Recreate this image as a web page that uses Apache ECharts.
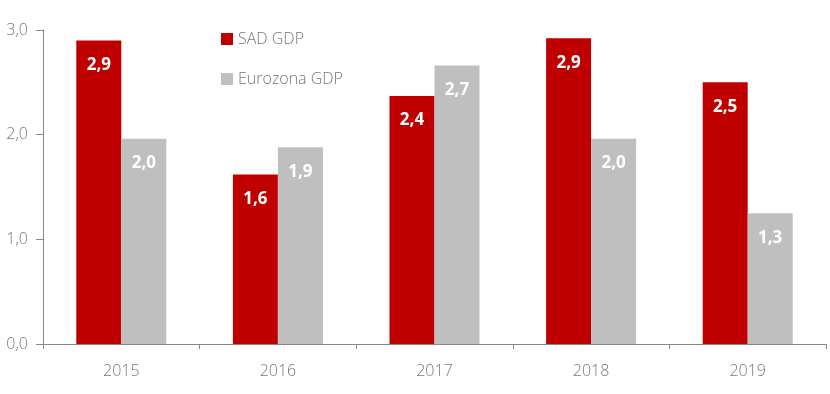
<!DOCTYPE html>
<html><head><meta charset="utf-8">
<script src="https://cdn.jsdelivr.net/npm/echarts@6/dist/echarts.min.js"></script>
<style>html,body{margin:0;padding:0;background:#fff}#c{width:830px;height:394px}</style>
</head><body><div id="c"></div>
<script>
var categories = ['2015','2016','2017','2018','2019'];
var sadGdp = [2.9, 1.62, 2.37, 2.92, 2.5];
var euroGdp = [1.96, 1.88, 2.66, 1.96, 1.25];
var yTicks = [0, 1, 2, 3];
var seriesNames = ['SAD GDP', 'Eurozona GDP'];

var fmt = function (v) { return (Math.round(v * 10) / 10).toFixed(1).replace('.', ','); };
var font = 'Open Sans';
var chart = echarts.init(document.getElementById('c'));
var lbl = {
  show: true, position: 'insideTop', distance: 16, color: '#fff',
  fontFamily: font, fontWeight: 'bold', fontSize: 17,
  formatter: function (p) { return fmt(p.value); }
};
chart.setOption({
  animation: false,
  grid: { left: 43, right: 4, top: 30, bottom: 50 },
  legend: {
    orient: 'vertical', left: 221, top: 29, padding: 0, itemWidth: 12, itemHeight: 12,
    itemGap: 20, icon: 'rect',
    textStyle: { color: '#777', fontFamily: font, fontSize: 16, lineHeight: 20, fontWeight: 300 },
    data: seriesNames
  },
  xAxis: {
    type: 'category', data: categories,
    axisLine: { lineStyle: { color: '#888' } },
    axisTick: { show: true, length: 5, lineStyle: { color: '#888' } },
    axisLabel: { color: '#777', fontFamily: font, fontSize: 16, fontWeight: 300, margin: 19 }
  },
  yAxis: {
    type: 'value', min: yTicks[0], max: yTicks[yTicks.length - 1], interval: 1,
    axisLine: { show: true, lineStyle: { color: '#888' } },
    axisTick: { show: true, length: 7, lineStyle: { color: '#888' } },
    splitLine: { show: false },
    axisLabel: { color: '#777', fontFamily: font, fontSize: 16, fontWeight: 300, margin: 15,
      formatter: function (v) { return v.toFixed(1).replace('.', ','); } }
  },
  series: [
    { name: seriesNames[0], type: 'bar', data: sadGdp, barWidth: 45, barGap: '0%',
      itemStyle: { color: '#c00000' }, label: lbl },
    { name: seriesNames[1], type: 'bar', data: euroGdp, barWidth: 45, barGap: '0%',
      itemStyle: { color: '#bfbfbf' }, label: lbl }
  ]
});
</script></body></html>
